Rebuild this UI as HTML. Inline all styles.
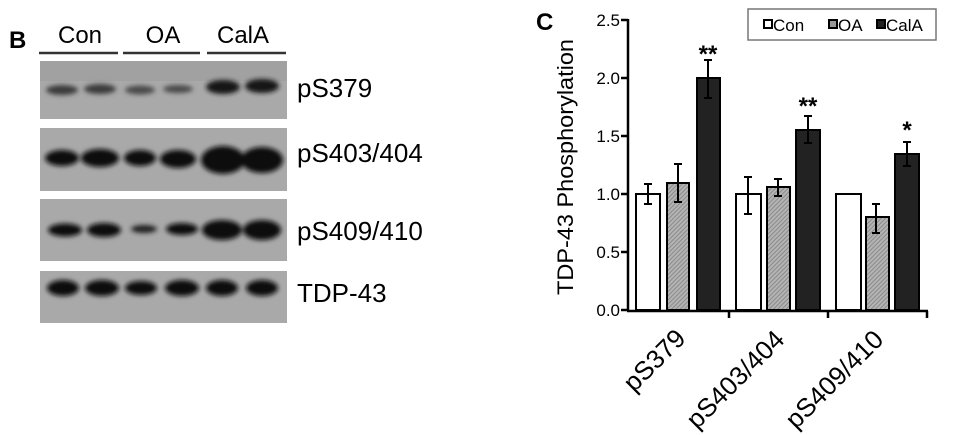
<!DOCTYPE html>
<html><head><meta charset="utf-8"><style>
html,body{margin:0;padding:0;background:#fff;}
svg{display:block;font-family:"Liberation Sans",Arial,sans-serif;}
</style></head><body>
<svg width="975" height="435" viewBox="0 0 975 435" xmlns="http://www.w3.org/2000/svg">
<defs>
<filter id="bl" x="-50%" y="-50%" width="200%" height="200%"><feGaussianBlur stdDeviation="2.5"/></filter>
<pattern id="hat" width="3" height="3" patternUnits="userSpaceOnUse" patternTransform="rotate(45)">
<rect width="3" height="3" fill="#b4b4b4"/><rect width="1" height="3" fill="#8a8a8a"/></pattern>
</defs>
<!-- Panel B -->
<text x="9" y="48" font-size="24" font-weight="bold">B</text>
<text x="80" y="43" font-size="24" text-anchor="middle">Con</text>
<text x="163" y="43" font-size="24" text-anchor="middle">OA</text>
<text x="243" y="43" font-size="24" text-anchor="middle">CalA</text>
<g stroke="#333" stroke-width="2.5"><line x1="39" y1="53" x2="118" y2="53"/><line x1="123" y1="53" x2="200" y2="53"/><line x1="207" y1="53" x2="286" y2="53"/></g>
<g fill="#a9a9a9"><rect x="40" y="61" width="247" height="58"/><rect x="40" y="128" width="247" height="63"/><rect x="40" y="199" width="247" height="62"/><rect x="40" y="271" width="247" height="52"/></g>
<rect x="40" y="61" width="247" height="20" fill="#9c9c9c" opacity="0.6"/>
<g fill="#111" filter="url(#bl)">
<ellipse cx="62" cy="90" rx="16" ry="5" fill="#3a3a3a"/><ellipse cx="100" cy="89" rx="16" ry="5" fill="#3a3a3a"/>
<ellipse cx="140" cy="90" rx="15" ry="4.5" fill="#484848"/><ellipse cx="178" cy="89" rx="15" ry="4" fill="#4a4a4a"/>
<ellipse cx="223" cy="87" rx="17" ry="7" fill="#151515"/><ellipse cx="262" cy="86" rx="17" ry="7" fill="#151515"/>
<ellipse cx="62" cy="158" rx="17" ry="8"/><ellipse cx="100" cy="158" rx="19" ry="9"/>
<ellipse cx="140" cy="158" rx="16" ry="8"/><ellipse cx="178" cy="159" rx="18" ry="9"/>
<ellipse cx="223" cy="160" rx="22" ry="14"/><ellipse cx="262" cy="160" rx="21" ry="13"/>
<ellipse cx="65" cy="230" rx="17" ry="6.5"/><ellipse cx="104" cy="230" rx="17" ry="7"/>
<ellipse cx="144" cy="229" rx="13" ry="4" fill="#222"/><ellipse cx="182" cy="229" rx="16" ry="6"/>
<ellipse cx="222" cy="230" rx="20" ry="10"/><ellipse cx="262" cy="230" rx="19" ry="10"/>
<ellipse cx="63" cy="288" rx="16" ry="8"/><ellipse cx="102" cy="288" rx="17" ry="8"/>
<ellipse cx="141" cy="288" rx="16" ry="7"/><ellipse cx="182" cy="288" rx="17" ry="8"/>
<ellipse cx="222" cy="288" rx="16" ry="8"/><ellipse cx="262" cy="288" rx="16" ry="8"/>
</g>
<g font-size="26"><text x="297" y="97">pS379</text><text x="297" y="162">pS403/404</text><text x="297" y="240">pS409/410</text><text x="297" y="302">TDP-43</text></g>

<!-- Panel C -->
<text x="536" y="30" font-size="24" font-weight="bold">C</text>
<text transform="translate(573,167) rotate(-90)" font-size="22" text-anchor="middle" textLength="256" lengthAdjust="spacingAndGlyphs">TDP-43 Phosphorylation</text>
<g font-size="17" text-anchor="end">
<text x="620" y="26">2.5</text><text x="620" y="84">2.0</text><text x="620" y="142">1.5</text><text x="620" y="200">1.0</text><text x="620" y="258">0.5</text><text x="620" y="316">0.0</text></g>
<g stroke="#000" stroke-width="2.5" fill="none">
<line x1="628" y1="19" x2="628" y2="311"/><line x1="627" y1="311" x2="928" y2="311"/>
<line x1="621" y1="20" x2="628" y2="20"/><line x1="621" y1="78" x2="628" y2="78"/><line x1="621" y1="136" x2="628" y2="136"/><line x1="621" y1="194" x2="628" y2="194"/><line x1="621" y1="252" x2="628" y2="252"/><line x1="621" y1="310" x2="628" y2="310"/>
<line x1="729" y1="311" x2="729" y2="318"/><line x1="828" y1="311" x2="828" y2="318"/><line x1="927" y1="311" x2="927" y2="318"/>
</g>
<g stroke="#000" stroke-width="2">
<rect x="636" y="194" width="24" height="116" fill="#fff"/>
<rect x="667" y="183" width="22" height="127" fill="url(#hat)"/>
<rect x="697" y="78" width="23" height="232" fill="#222"/>
<rect x="736" y="194" width="25" height="116" fill="#fff"/>
<rect x="767" y="187" width="23" height="123" fill="url(#hat)"/>
<rect x="796" y="130" width="24" height="180" fill="#222"/>
<rect x="836" y="194" width="25" height="116" fill="#fff"/>
<rect x="866" y="217" width="23" height="93" fill="url(#hat)"/>
<rect x="895" y="154" width="24" height="156" fill="#222"/>
</g>
<g stroke="#000" stroke-width="2" fill="none">
<path d="M648 184V204M644 184h8M644 204h8"/>
<path d="M678 164V202M674 164h8M674 202h8"/>
<path d="M708 60V98M704 60h8M704 98h8"/>
<path d="M748 177V214M744 177h8M744 214h8"/>
<path d="M778 179V196M774 179h8M774 196h8"/>
<path d="M808 116V143M804 116h8M804 143h8"/>
<path d="M876 204V233M872 204h8M872 233h8"/>
<path d="M907 142V166M903 142h8M903 166h8"/>
</g>
<g font-size="24" font-weight="bold" text-anchor="middle"><text x="708" y="62">**</text><text x="808" y="114">**</text><text x="907" y="138">*</text></g>
<rect x="748" y="9" width="188" height="31" fill="#fff" stroke="#777" stroke-width="1.5"/>
<g font-size="17"><rect x="764" y="20" width="8" height="8" fill="#fff" stroke="#000" stroke-width="2"/><text x="773" y="31">Con</text>
<rect x="829" y="20" width="8" height="8" fill="#999" stroke="#000" stroke-width="2"/><text x="838" y="31">OA</text>
<rect x="877" y="20" width="8" height="8" fill="#222" stroke="#000" stroke-width="2"/><text x="886" y="31">CalA</text></g>
<g font-size="26"><text transform="translate(634,393) rotate(-45)">pS379</text>
<text transform="translate(697,430) rotate(-45)">pS403/404</text>
<text transform="translate(796,430) rotate(-45)">pS409/410</text></g>
</svg>
</body></html>
